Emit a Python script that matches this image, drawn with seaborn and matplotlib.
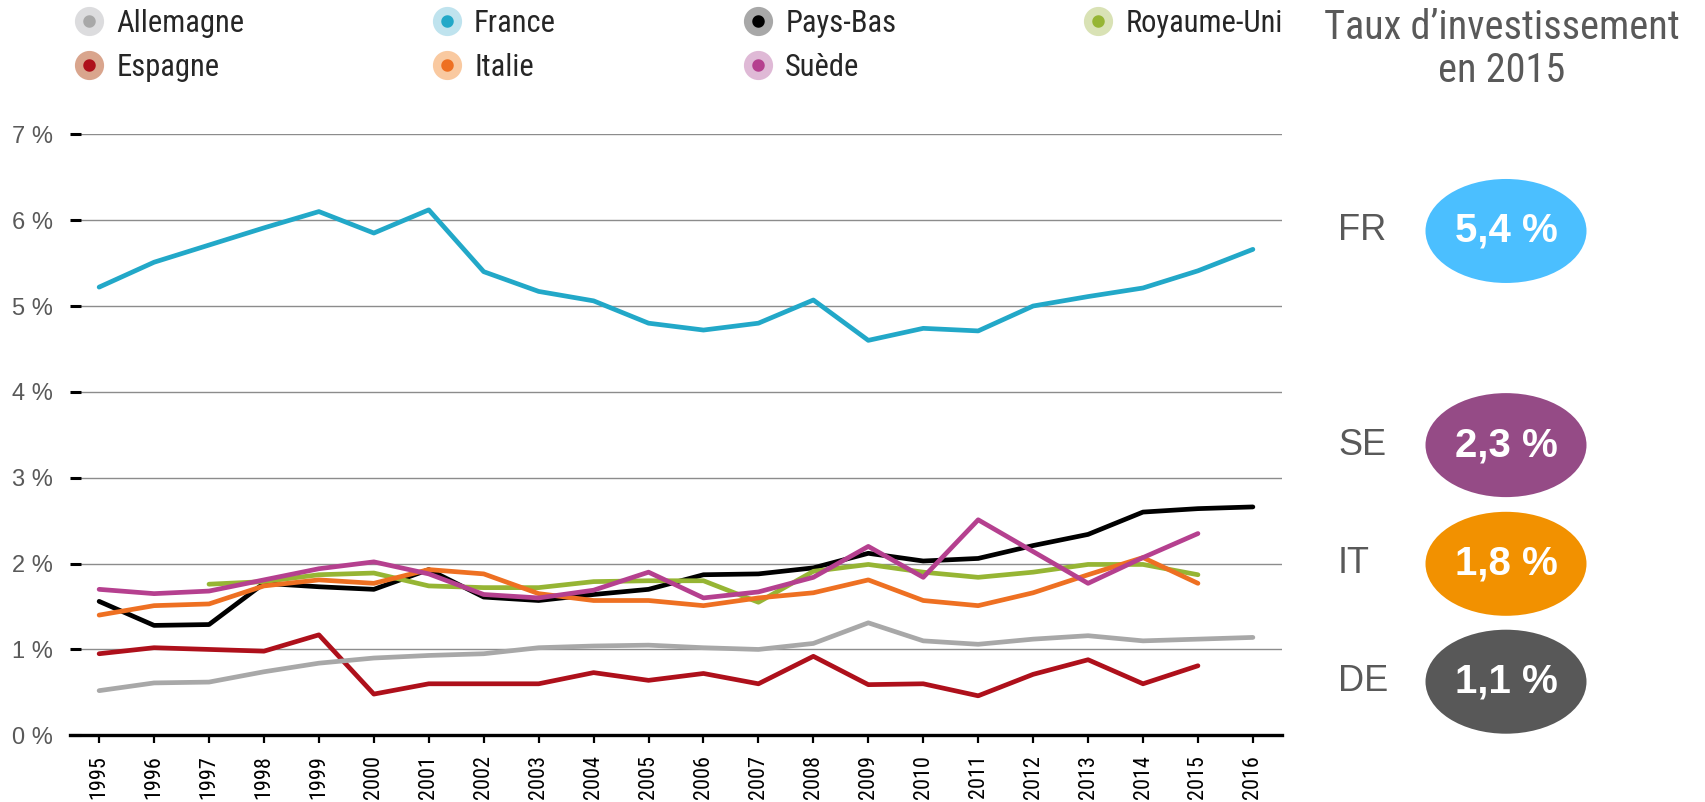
import numpy as np
import pandas as pd
import matplotlib
matplotlib.use("Agg")
import matplotlib.pyplot as plt
import seaborn as sns
from matplotlib.lines import Line2D
from matplotlib.patches import Ellipse

# --- Data ---
years = list(range(1995, 2017))
nan = np.nan

allemagne = [0.52, 0.61, 0.62, 0.74, 0.84, 0.90, 0.93, 0.95, 1.02, 1.04, 1.05,
             1.02, 1.00, 1.07, 1.31, 1.10, 1.06, 1.12, 1.16, 1.10, 1.12, 1.14]
france = [5.22, 5.51, 5.71, 5.91, 6.10, 5.85, 6.12, 5.40, 5.17, 5.06, 4.80,
          4.72, 4.80, 5.07, 4.60, 4.74, 4.71, 5.00, 5.11, 5.21, 5.41, 5.66]
pays_bas = [1.56, 1.28, 1.29, 1.77, 1.73, 1.70, 1.93, 1.61, 1.57, 1.64, 1.70,
            1.87, 1.88, 1.95, 2.12, 2.03, 2.06, 2.21, 2.34, 2.60, 2.64, 2.66]
royaume_uni = [nan, nan, 1.76, 1.79, 1.87, 1.89, 1.74, 1.72, 1.72, 1.79, 1.80,
               1.80, 1.55, 1.91, 1.99, 1.90, 1.84, 1.90, 1.99, 1.99, 1.87, nan]
espagne = [0.95, 1.02, 1.00, 0.98, 1.17, 0.48, 0.60, 0.60, 0.60, 0.73, 0.64,
           0.72, 0.60, 0.92, 0.59, 0.60, 0.46, 0.71, 0.88, 0.60, 0.81, nan]
italie = [1.40, 1.51, 1.53, 1.74, 1.81, 1.77, 1.93, 1.88, 1.65, 1.57, 1.57,
          1.51, 1.60, 1.66, 1.81, 1.57, 1.51, 1.66, 1.87, 2.07, 1.77, nan]
suede = [1.70, 1.65, 1.68, 1.81, 1.94, 2.02, 1.88, 1.64, 1.60, 1.69, 1.90,
         1.60, 1.67, 1.84, 2.20, 1.84, 2.51, 2.14, 1.77, 2.07, 2.35, nan]

# legend order (column-major, 2 rows x 4 cols)
countries = ["Allemagne", "Espagne", "France", "Italie", "Pays-Bas", "Suède", "Royaume-Uni"]
series = {"Allemagne": allemagne, "Espagne": espagne, "France": france,
          "Italie": italie, "Pays-Bas": pays_bas, "Suède": suede,
          "Royaume-Uni": royaume_uni}
draw_order = ["Espagne", "Allemagne", "Pays-Bas", "Royaume-Uni", "Italie", "Suède", "France"]

line_colors = {"Allemagne": "#a8a8a8", "Espagne": "#ae101b", "France": "#22a8c8",
               "Italie": "#ee7022", "Pays-Bas": "#000000", "Suède": "#b5408f",
               "Royaume-Uni": "#96b534"}
halo_colors = {"Allemagne": "#dcdcde", "Espagne": "#d9a58d", "France": "#bfe3ee",
               "Italie": "#f9c9a0", "Pays-Bas": "#a8a8a8", "Suède": "#dfb9d6",
               "Royaume-Uni": "#d9e2b5"}

# 2015 investment rate badges
badge_codes = ["FR", "SE", "IT", "DE"]
badge_values = [5.4, 2.3, 1.8, 1.1]
badge_colors = ["#4bbfff", "#954b86", "#f29100", "#585858"]
badge_y = [0.712, 0.445, 0.297, 0.150]

ytick_vals = list(range(0, 8))

# --- Build long-form table ---
rows = []
for name in draw_order:
    for yr, v in zip(years, series[name]):
        rows.append({"annee": yr, "taux": v, "pays": name})
df = pd.DataFrame(rows).dropna()

# --- Plot ---
sns.set_theme(style="white")
plt.rcParams["font.family"] = ["Liberation Sans", "DejaVu Sans"]
NARROW = ["Roboto Condensed", "Archivo Narrow", "Liberation Sans", "DejaVu Sans"]

fig = plt.figure(figsize=(17.06, 8.02), dpi=100)
ax = fig.add_axes([81 / 1706, 1 - 735.3 / 802, (1282 - 81) / 1706, 601 / 802])

sns.lineplot(data=df, x="annee", y="taux", hue="pays", hue_order=draw_order,
             palette=line_colors, linewidth=3.4, legend=False, ax=ax,
             estimator=None)

ax.set_xlim(1994.67, 2016.53)
ax.set_ylim(0, 7)
ax.set_xlabel("")
ax.set_ylabel("")

ax.set_yticks(ytick_vals)
ax.set_yticklabels([f"{v} %" for v in ytick_vals], fontsize=17, color="#595959")
ax.set_xticks(years)
ax.set_xticklabels([str(y) for y in years], rotation=90, fontsize=16,
                   family=NARROW, color="black")

ax.grid(axis="y", color="#8c8c8c", linewidth=1.0)
ax.grid(axis="x", visible=False)
ax.set_axisbelow(True)
for s in ["top", "right", "left"]:
    ax.spines[s].set_visible(False)
ax.spines["bottom"].set_color("black")
ax.spines["bottom"].set_linewidth(2.4)
ax.spines["bottom"].set_bounds(1994.47, 2016.53)

ax.tick_params(axis="y", which="major", left=True, length=8, width=2.2,
               color="black", pad=12)
ax.tick_params(axis="x", which="major", bottom=True, length=6, width=1.6,
               color="black", pad=8)

# --- Legend ---
handles = [Line2D([], [], linestyle="none", marker="o", markersize=15,
                  markerfacecolor=line_colors[c], markeredgecolor=halo_colors[c],
                  markeredgewidth=6) for c in countries]
fig.legend(handles, countries, ncol=4, loc="upper left",
           bbox_to_anchor=(74 / 1706, 1 - 9 / 802), frameon=False,
           handlelength=1.0, handletextpad=0.4, columnspacing=6.1,
           labelspacing=0.48, borderpad=0, borderaxespad=0,
           prop={"family": NARROW, "size": 22})

# --- Right panel ---
fig.text(1502 / 1706, 1 - 8 / 802, "Taux d\u2019investissement\nen 2015",
         ha="center", va="top", fontsize=29, color="#595959",
         family=NARROW, linespacing=1.12)

for code, val, col, yy in zip(badge_codes, badge_values, badge_colors, badge_y):
    fig.patches.append(Ellipse((1506 / 1706, yy), 161 / 1706, 104 / 802,
                               transform=fig.transFigure, facecolor=col,
                               edgecolor="none"))
    fig.text(1338 / 1706, yy, code, ha="left", va="center", fontsize=26,
             color="#595959")
    fig.text(1506 / 1706, yy, f"{val:.1f}".replace(".", ",") + " %",
             ha="center", va="center", fontsize=29, fontweight="bold",
             color="white")

fig.savefig("out.png", dpi=100)
